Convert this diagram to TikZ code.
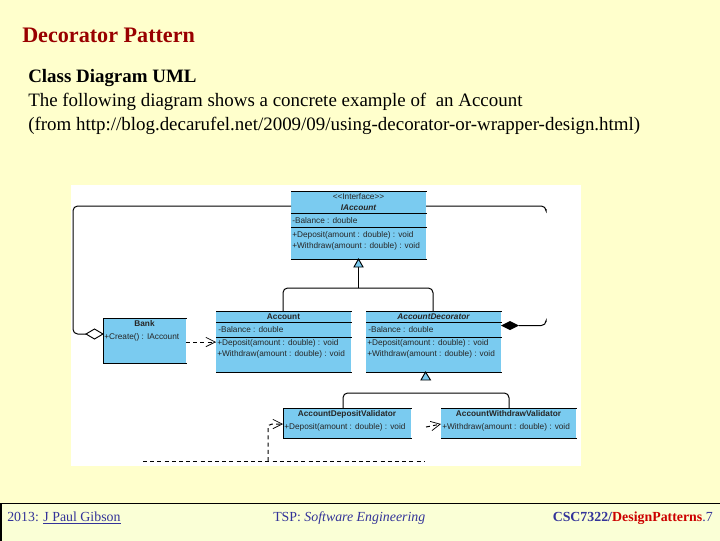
\documentclass[tikz,border=0pt]{standalone}
\usepackage{fontspec}
\setmainfont{Liberation Serif}
\setsansfont{Liberation Sans}
\usetikzlibrary{arrows.meta,calc}
\definecolor{slidebg}{HTML}{FFFFCC}
\definecolor{footbg}{HTML}{FAFFD6}
\definecolor{umlblue}{HTML}{7ACBF0}
\definecolor{titlered}{HTML}{990000}
\definecolor{footblue}{HTML}{333399}
\definecolor{footred}{HTML}{CC0000}
\tikzset{
  classbox/.style={draw=none,fill=umlblue,inner sep=0pt,anchor=north west},
  umltext/.style={font=\sffamily\fontsize{6.2}{7}\selectfont,inner sep=0pt,text=black!85},
  slidetext/.style={font=\fontsize{14.2}{16}\selectfont,inner sep=0pt,anchor=base west,text=black},
  foot/.style={font=\fontsize{10.4}{12}\selectfont,inner sep=0pt,anchor=base west,text=footblue},
  rule/.style={line width=0.7pt,black},
  conn/.style={line width=0.75pt,black,rounded corners=3.5pt},
  dep/.style={line width=0.75pt,black,dash pattern=on 3pt off 2.4pt,rounded corners=3pt},
  opentip/.style={-{Straight Barb[length=7pt,width=7pt,line width=0.55pt]}},
  gentri/.style={draw=black,fill=umlblue,line width=0.7pt},
}
\newcommand{\umlclass}[5]{%
  % name, x, y, w, h
  \node[classbox,minimum width=#4*0.75pt,minimum height=#5*0.75pt] (#1) at (#2,#3) {};
}
\begin{document}
\begin{tikzpicture}[x=0.75pt,y=-0.75pt]
\useasboundingbox (0,0) rectangle (720,540);
\fill[slidebg] (0,0) rectangle (720,540);
% footer
\node[draw=black,line width=0.8pt,fill=footbg,minimum width=719*0.75pt,minimum height=38*0.75pt,inner sep=0pt,anchor=north west] (footer) at (0.5,502.5) {};
% titles
\node[font=\bfseries\fontsize{16.6}{20}\selectfont,text=titlered,inner sep=0pt,anchor=base west] (title) at (22,42) {Decorator Pattern};
\node[slidetext,font=\bfseries\fontsize{14.2}{16}\selectfont] (l1) at (28,82) {Class Diagram UML};
\node[slidetext] (l2) at (28,106) {The following diagram shows a concrete example of\ \ an Account};
\node[slidetext] (l3) at (28,130) {(from http://blog.decarufel.net/2009/09/using-decorator-or-wrapper-design.html)};
% white panel
\fill[white] (71,185) rectangle (581,466);
% classes
\umlclass{iacc}{291}{191}{135}{68}
\umlclass{bank}{103}{318}{83}{45}
\umlclass{acc}{216}{311}{135}{61}
\umlclass{dec}{366}{311}{135}{61}
\umlclass{depv}{283}{408}{128}{30}
\umlclass{witv}{441}{408}{135}{30}
% borders top/bottom
\foreach \n in {iacc,bank,acc,dec,depv,witv}{
  \draw[rule] (\n.north west) -- (\n.north east);
  \draw[rule] (\n.south west) -- (\n.south east);
}
\draw[rule] (bank.north west) -- (bank.south west);
\draw[rule] (depv.north west) -- (depv.south west);
% compartment rules
\draw[rule] ($(iacc.north west)+(0,22)$) -- ($(iacc.north east)+(0,22)$);
\draw[rule] ($(iacc.north west)+(0,36)$) -- ($(iacc.north east)+(0,36)$);
\draw[rule] ($(acc.north west)+(0,11)$) -- ($(acc.north east)+(0,11)$);
\draw[rule] ($(acc.north west)+(0,26)$) -- ($(acc.north east)+(0,26)$);
\draw[rule] ($(dec.north west)+(0,11)$) -- ($(dec.north east)+(0,11)$);
\draw[rule] ($(dec.north west)+(0,26)$) -- ($(dec.north east)+(0,26)$);
% class text
\node[umltext] (t1) at (358.5,197) {<{}<Interface>{}>};
\node[umltext,font=\sffamily\bfseries\itshape\fontsize{6.2}{7}\selectfont] (t2) at (358.5,208) {IAccount};
\node[umltext,anchor=west] (t3) at (292,221) {-Balance : double};
\node[umltext,anchor=west] (t4) at (292,235) {+Deposit(amount : double) : void};
\node[umltext,anchor=west] (t5) at (292,246) {+Withdraw(amount : double) : void};
\node[umltext,font=\sffamily\bfseries\fontsize{6.2}{7}\selectfont] (t6) at (144.5,324) {Bank};
\node[umltext,anchor=west] (t7) at (104,337) {+Create() : IAccount};
\node[umltext,font=\sffamily\bfseries\fontsize{6.2}{7}\selectfont] (t8) at (283.5,317) {Account};
\node[umltext,anchor=west] (t9) at (218,329.5) {-Balance : double};
\node[umltext,anchor=west] (t10) at (217,343) {+Deposit(amount : double) : void};
\node[umltext,anchor=west] (t11) at (217,354.5) {+Withdraw(amount : double) : void};
\node[umltext,font=\sffamily\bfseries\itshape\fontsize{6.2}{7}\selectfont] (t12) at (433.5,317) {AccountDecorator};
\node[umltext,anchor=west] (t13) at (368,329.5) {-Balance : double};
\node[umltext,anchor=west] (t14) at (367,343) {+Deposit(amount : double) : void};
\node[umltext,anchor=west] (t15) at (367,354.5) {+Withdraw(amount : double) : void};
\node[umltext,font=\sffamily\bfseries\fontsize{6.2}{7}\selectfont] (t16) at (347,414) {AccountDepositValidator};
\node[umltext,anchor=west] (t17) at (284,427) {+Deposit(amount : double) : void};
\node[umltext,font=\sffamily\bfseries\fontsize{6.2}{7}\selectfont] (t18) at (508.5,414) {AccountWithdrawValidator};
\node[umltext,anchor=west] (t19) at (442,427) {+Withdraw(amount : double) : void};
% named connector points
\coordinate (bankl) at (103,334);
\coordinate (aggtip) at (86,334);
\coordinate (ileft) at (291,206);
\coordinate (iright) at (426,206);
\coordinate (rightend) at (546,209);
\coordinate (decr) at (501,325.5);
\coordinate (comptip) at (519,325.5);
\coordinate (compend) at (546,322);
\coordinate (bankr) at (186,342);
\coordinate (accl) at (216,342);
\coordinate (tri1) at (358.5,259);
\coordinate (tri1b) at (358.5,267);
\coordinate (j1) at (358.5,288);
\coordinate (accup) at (283,311);
\coordinate (decup) at (433,311);
\coordinate (tri2) at (425.5,372);
\coordinate (tri2b) at (425.5,380);
\coordinate (j2) at (425.5,393);
\coordinate (depup) at (343,408);
\coordinate (witup) at (509,408);
\coordinate (dl) at (143,461);
\coordinate (dr) at (425,461);
\coordinate (dj) at (268,461);
\coordinate (depl) at (283,424);
\coordinate (witl) at (441,424);
\coordinate (wits) at (426,427);
% aggregation to interface
\draw[conn] (ileft) -- (73,206) -- (73,334) -- (aggtip);
\draw[line width=0.7pt,black,fill=white] (bankl) -- (94.5,329) -- (aggtip) -- (94.5,339) -- cycle;
\draw[conn] (iright) -- (546,206) -- (rightend);
% composition
\draw[conn] (comptip) -- (546,325.5) -- (compend);
\fill[black] (decr) -- (510,321) -- (comptip) -- (510,330) -- cycle;
% dependency Bank -> Account
\draw[dep,opentip] (bankr) -- (accl);
% generalisation 1
\draw[conn] (accup) -- (283,288) -- (decup |- j1) -- (decup);
\draw[line width=0.75pt] (tri1b) -- (j1);
\draw[gentri] (tri1) -- (354,267) -- (363,267) -- cycle;
% generalisation 2
\draw[conn] (depup) -- (343,393) -- (witup |- j2) -- (witup);
\draw[gentri] (tri2) -- (421,380) -- (430.5,380) -- cycle;
% dashed dependencies
\draw[dep] (dl) -- (dr);
\draw[dep,opentip] (dj) -- (268,424) -- (depl);
\draw[dep,opentip] (wits) -- (witl);
% footer text
\node[foot] (f1) at (7,521) {2013: \underline{J Paul Gibson}};
\node[foot] (f2) at (273,521) {TSP: \textit{Software Engineering}};
\node[foot,anchor=base east] (f3) at (713,521) {\textbf{CSC7322/}\textcolor{footred}{\textbf{DesignPatterns}}.7};
\end{tikzpicture}
\end{document}
